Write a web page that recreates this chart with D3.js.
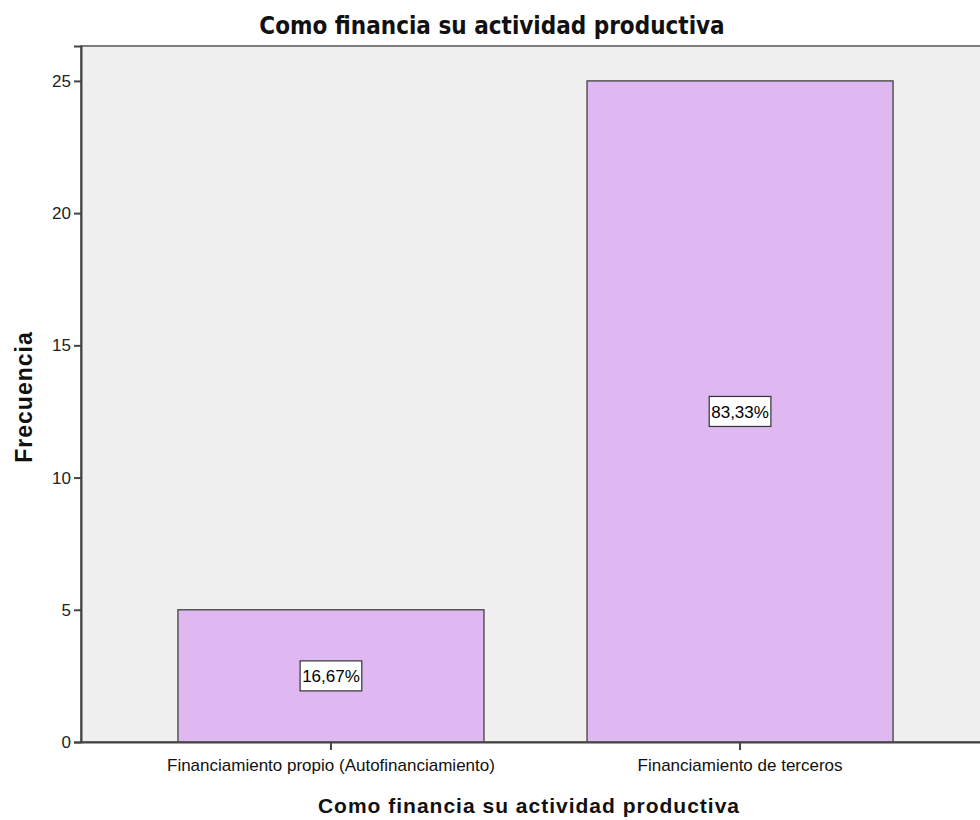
<!DOCTYPE html>
<html>
<head>
<meta charset="utf-8">
<script src="https://cdn.jsdelivr.net/npm/d3@7"></script>
<style>
  html, body { margin: 0; padding: 0; background: #fff; }
  svg { display: block; }
</style>
</head>
<body>
<div id="chart"></div>
<script>
// values
const categories = ["Financiamiento propio (Autofinanciamiento)", "Financiamiento de terceros"];
const frequencies = [5, 25];
const percentLabels = ["16,67%", "83,33%"];
const yTicks = [0, 5, 10, 15, 20, 25];

const W = 980, H = 820;
const margin = { top: 46, left: 81, bottom: 78, right: -10 };
const plotW = W - margin.left - margin.right;
const plotH = H - margin.top - margin.bottom;

const svg = d3.select("#chart").append("svg")
    .attr("width", W).attr("height", H);

const x = d3.scaleBand()
    .domain(categories)
    .range([0, plotW])
    .paddingInner(0.252)
    .paddingOuter(0.237);

const y = d3.scaleLinear()
    .domain([0, 26.32])
    .range([plotH, 0]);

const g = svg.append("g").attr("transform", `translate(${margin.left},${margin.top})`);

// plot background + frame
g.append("rect")
    .attr("x", 0).attr("y", 0)
    .attr("width", plotW).attr("height", plotH)
    .attr("fill", "#f0f0f0")
    .attr("stroke", "#555")
    .attr("stroke-width", 1.5);

// bars
g.selectAll(".bar")
    .data(frequencies)
    .enter().append("rect")
    .attr("class", "bar")
    .attr("x", (d, i) => x(categories[i]))
    .attr("y", d => y(d))
    .attr("width", x.bandwidth())
    .attr("height", d => plotH - y(d))
    .attr("fill", "#dfb8f2")
    .attr("stroke", "#555")
    .attr("stroke-width", 1.5);

// percent boxes in the middle of each bar
const lab = g.selectAll(".pct")
    .data(frequencies)
    .enter().append("g")
    .attr("class", "pct")
    .attr("transform", (d, i) => `translate(${x(categories[i]) + x.bandwidth() / 2},${y(d / 2)})`);

lab.append("text")
    .attr("text-anchor", "middle")
    .attr("dy", "0.36em")
    .attr("font-family", "Liberation Sans, Arial, sans-serif")
    .attr("font-size", 17)
    .attr("fill", "#000")
    .text((d, i) => percentLabels[i]);

lab.each(function () {
    const t = d3.select(this).select("text");
    const bb = t.node().getBBox();
    d3.select(this).insert("rect", "text")
        .attr("x", bb.x - 2).attr("y", -15)
        .attr("width", bb.width + 4).attr("height", 30)
        .attr("fill", "#fff")
        .attr("stroke", "#333")
        .attr("stroke-width", 1.2);
});

// y axis
const yAxis = g.append("g")
    .call(d3.axisLeft(y).tickValues(yTicks).tickSize(7).tickPadding(3));
yAxis.select(".domain").attr("stroke", "#444").attr("stroke-width", 2);
yAxis.selectAll(".tick line").attr("stroke", "#444").attr("stroke-width", 2);
yAxis.selectAll(".tick text")
    .attr("font-family", "Liberation Sans, Arial, sans-serif")
    .attr("font-size", 17)
    .attr("fill", "#222");

// x axis
const xAxis = g.append("g")
    .attr("transform", `translate(0,${plotH})`)
    .call(d3.axisBottom(x).tickSize(8).tickPadding(9).tickSizeOuter(0));
xAxis.select(".domain").attr("stroke", "#444").attr("stroke-width", 2);
xAxis.selectAll(".tick line").attr("stroke", "#444").attr("stroke-width", 2);
xAxis.selectAll(".tick text")
    .attr("font-family", "Liberation Sans, Arial, sans-serif")
    .attr("font-size", 17)
    .attr("fill", "#111");

// titles
svg.append("text")
    .attr("x", 492).attr("y", 34)
    .attr("text-anchor", "middle")
    .attr("font-family", "Liberation Sans Narrow, DejaVu Sans Condensed, Arial Narrow, sans-serif")
    .attr("font-size", 24)
    .attr("font-weight", "bold")
    .attr("fill", "#111")
    .text("Como financia su actividad productiva");

svg.append("text")
    .attr("x", 529).attr("y", 813)
    .attr("text-anchor", "middle")
    .attr("font-family", "Liberation Sans, Arial, sans-serif")
    .attr("font-size", 21)
    .attr("font-weight", "bold")
    .attr("letter-spacing", 1)
    .attr("fill", "#111")
    .text("Como financia su actividad productiva");

svg.append("text")
    .attr("transform", "translate(32,397) rotate(-90)")
    .attr("text-anchor", "middle")
    .attr("font-family", "Liberation Sans, Arial, sans-serif")
    .attr("font-size", 23)
    .attr("font-weight", "bold")
    .attr("letter-spacing", 1)
    .attr("fill", "#111")
    .text("Frecuencia");
</script>
</body>
</html>
